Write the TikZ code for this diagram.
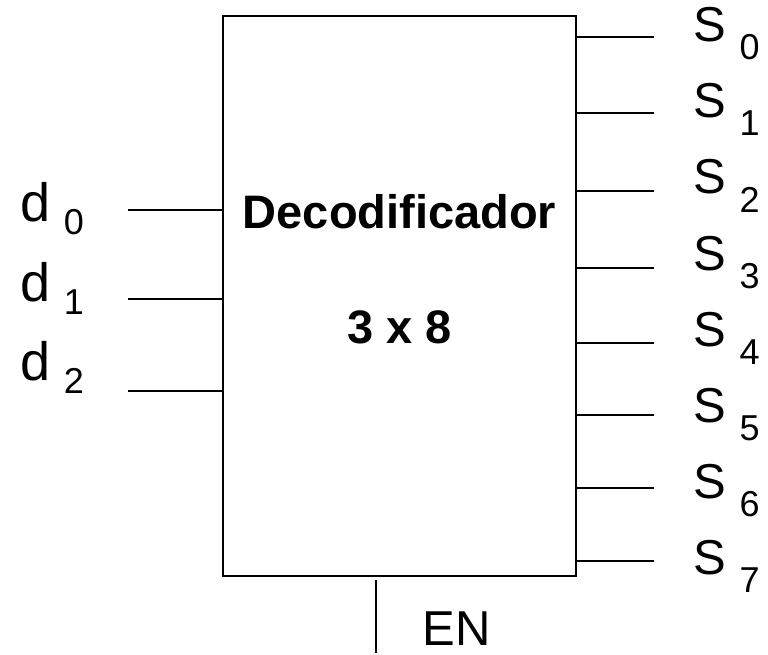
\documentclass[tikz,border=0pt]{standalone}
\usepackage{fontspec}
\setmainfont{Liberation Sans}
\usetikzlibrary{positioning,calc}

\begin{document}
\begin{tikzpicture}[
    x=1pt, y=-1pt,
    line width=1.8pt,
    box/.style={draw, minimum width=353pt, minimum height=560pt, inner sep=0pt},
    title/.style={anchor=base, inner sep=0pt, font=\fontsize{47}{47}\selectfont\bfseries},
    lbl/.style={anchor=base west, inner sep=0pt},
  ]
  \useasboundingbox (0,0) rectangle (768,655);
  \node[box] (dec) at (399.5,296) {};
  \node[title] (name) at (399.5,228) {Decodificador};
  \node[title] (size) at (399.5,343) {3 x 8};
  % inputs
  \foreach \i/\y/\b in {0/210/222,1/299/301,2/391/380} {
    \coordinate (in\i) at (128,\y);
    \draw (in\i) -- (in\i -| dec.west);
    \node[lbl, font=\fontsize{54}{54}\selectfont] (d\i) at (20,\b)
      {d\hspace{13pt}\raisebox{-13pt}{\fontsize{36}{36}\selectfont\i}};
  }
  % outputs
  \foreach \i/\y in {0/37,1/113,2/191,3/268,4/343,5/415,6/488,7/561} {
    \coordinate (out\i) at (654,\y);
    \draw (out\i -| dec.east) -- (out\i);
    \pgfmathsetmacro\sy{42+76*\i}
    \node[lbl, font=\fontsize{49}{49}\selectfont] (s\i) at (693,\sy)
      {S\hspace{13pt}\raisebox{-18pt}{\fontsize{36}{36}\selectfont\i}};
  }
  % enable
  \coordinate (en) at (376,653);
  \draw ([yshift=-3pt]dec.south -| en) -- (en);
  \node[lbl, text depth=0pt, font=\fontsize{49}{49}\selectfont] (enlbl) at (422,645) {EN};
\end{tikzpicture}
\end{document}
